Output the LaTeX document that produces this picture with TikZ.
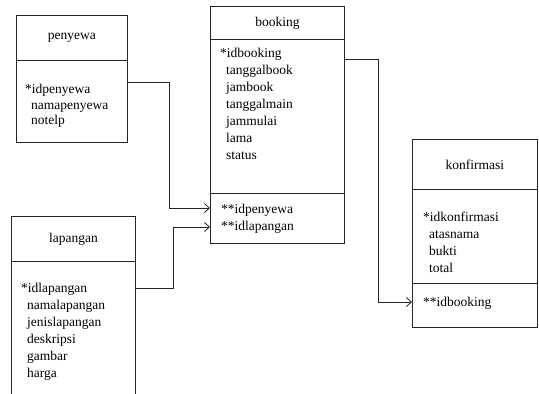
\documentclass[tikz,border=0pt]{standalone}
\usepackage{fontspec}
\setmainfont{Liberation Serif}
\usetikzlibrary{arrows.meta}
\newcommand\ind{\hspace*{6pt}}
\tikzset{
  box/.style={draw=black!85, line width=0.8pt, rectangle, inner sep=0pt, anchor=north west},
  title/.style={font=\fontsize{13.5}{17}\selectfont},
  attr/.style={align=left, anchor=north west, inner sep=0pt, font=\fontsize{13.5}{17}\selectfont},
  conn/.style={draw=black!85, line width=0.8pt, -{Straight Barb[length=5pt,width=9pt]}},
}
\begin{document}
\begin{tikzpicture}[x=1pt,y=-1pt]
\useasboundingbox (0,0) rectangle (539,394);

% penyewa
\node[box, minimum width=111pt, minimum height=45pt] (phead) at (16,15) {};
\node[title] (ptitle) at (phead.center) {penyewa};
\node[box, minimum width=111pt, minimum height=82pt] (pbody) at (16,60) {};
\node[attr, font=\fontsize{13.5}{15.5}\selectfont] (ptext) at (25,84) {*idpenyewa\\\ind namapenyewa\\\ind notelp};

% booking
\node[box, minimum width=134pt, minimum height=33pt] (bhead) at (210,6) {};
\node[title] (btitle) at (bhead.center) {booking};
\node[box, minimum width=134pt, minimum height=154pt] (bbody) at (210,39) {};
\node[attr] (btext) at (220,48) {*idbooking\\\ind tanggalbook\\\ind jambook\\\ind tanggalmain\\\ind jammulai\\\ind lama\\\ind status};
\node[box, minimum width=134pt, minimum height=50pt] (bfk) at (210,193) {};
\node[attr] (bfktext) at (221,204) {**idpenyewa\\**idlapangan};

% konfirmasi
\node[box, minimum width=125pt, minimum height=50pt] (khead) at (412,139) {};
\node[title] (ktitle) at (khead.center) {konfirmasi};
\node[box, minimum width=125pt, minimum height=94pt] (kbody) at (412,189) {};
\node[attr] (ktext) at (423,212) {*idkonfirmasi\\\ind atasnama\\\ind bukti\\\ind total};
\node[box, minimum width=125pt, minimum height=44pt] (kfk) at (412,283) {};
\node[attr] (kfktext) at (423,297) {**idbooking};

% lapangan (body runs past the lower edge)
\node[box, minimum width=124pt, minimum height=45pt] (lhead) at (11,216) {};
\node[title] (ltitle) at (lhead.center) {lapangan};
\node[anchor=north west, inner sep=0pt, minimum width=124pt, minimum height=133pt] (lbody) at (11,261) {};
\draw[draw=black!85, line width=0.8pt] (lbody.north west) -- (lbody.south west);
\draw[draw=black!85, line width=0.8pt] (lbody.north east) -- (lbody.south east);
\node[attr] (ltext) at (21,283) {*idlapangan\\\ind namalapangan\\\ind jenislapangan\\\ind deskripsi\\\ind gambar\\\ind harga};

% relationships
\draw[conn] ([yshift=-22pt]pbody.north east) -- ++(42pt,0) |- ([yshift=-15pt]bfk.north west);
\draw[conn] ([yshift=-27pt]lbody.north east) -- ++(38pt,0) |- ([yshift=-34pt]bfk.north west);
\draw[conn] ([yshift=-20pt]bbody.north east) -- ++(34pt,0) |- ([yshift=-19pt]kfk.north west);
\end{tikzpicture}
\end{document}
